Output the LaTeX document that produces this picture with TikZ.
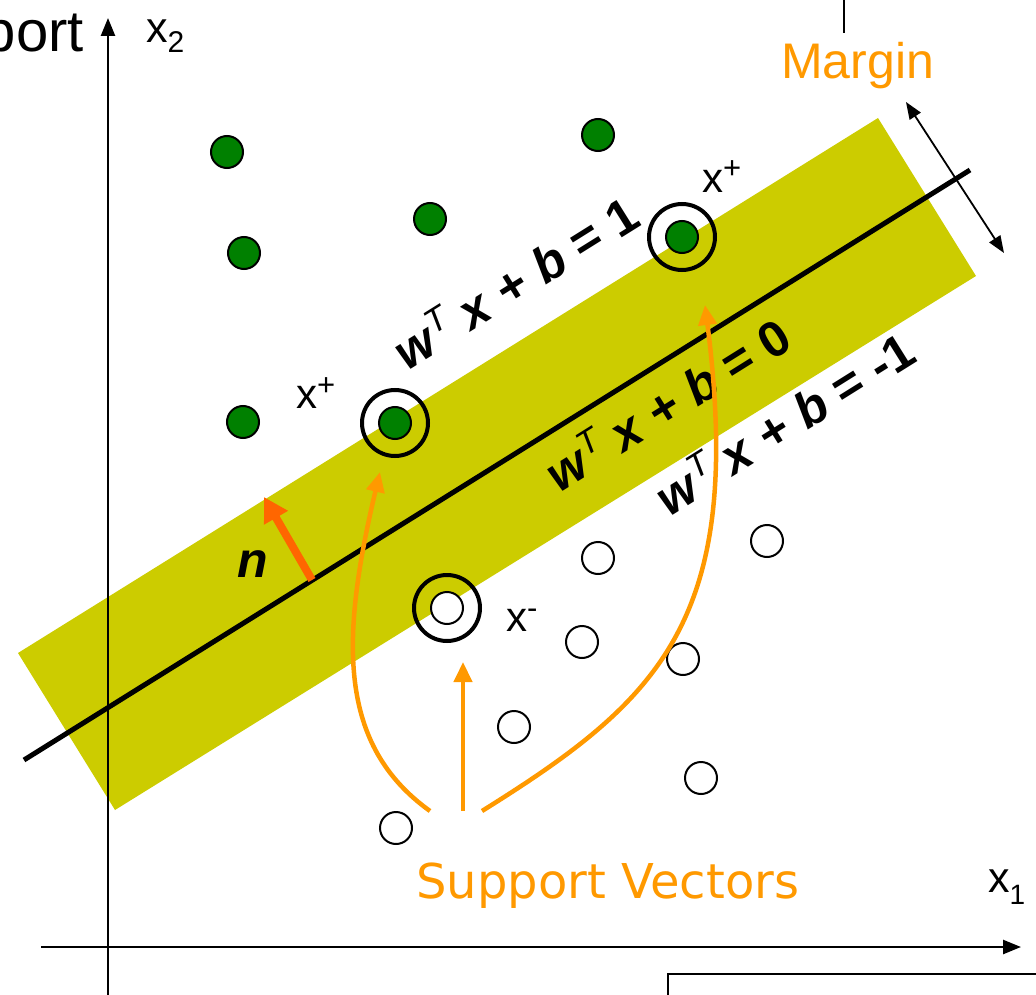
\documentclass[tikz,border=0pt]{standalone}
\usepackage{fontspec}
\setmainfont{Liberation Sans}
\newfontfamily\svfont{DejaVu Sans}
\usetikzlibrary{arrows.meta}
\definecolor{bandcol}{RGB}{204,204,0}
\definecolor{dotgreen}{RGB}{0,128,0}
\definecolor{svorange}{RGB}{255,153,0}
\definecolor{norange}{RGB}{255,102,0}
\begin{document}
\begin{tikzpicture}[x=1pt,y=-1pt,
  axlbl/.style={inner sep=0pt, anchor=base west, font=\fontsize{43}{43}\selectfont},
  ptlbl/.style={inner sep=0pt, anchor=base west, font=\fontsize{42}{42}\selectfont},
  eqlbl/.style={inner sep=0pt, rotate=32, anchor=base, font=\fontsize{50}{50}\selectfont\bfseries},
  gdot/.style={circle, draw=black, line width=2pt, fill=dotgreen, minimum size=32pt, inner sep=0pt},
  wdot/.style={circle, draw=black, line width=2pt, fill=white, minimum size=32pt, inner sep=0pt},
  ringmark/.style={circle, draw=black, line width=4pt, minimum size=66pt, inner sep=0pt},
  axisline/.style={line width=2.5pt, -{Triangle[width=14pt,length=18pt]}},
  svarrow/.style={draw=svorange, line width=4.5pt, -{Triangle[width=18pt,length=20pt]}},
]
\useasboundingbox (0,0) rectangle (1036,995);
% band
\fill[bandcol] (18,653) -- (878,118) -- (976,276) -- (115,810) -- cycle;
% axes
\coordinate (yb) at (108,995);
\coordinate (yt) at (108,18);
\coordinate (xl) at (41,947);
\coordinate (xr) at (1021,947);
\draw[axisline] (yb) -- (yt);
\draw[axisline] (xl) -- (xr);
% decision line
\coordinate (h1) at (24,760);
\coordinate (h2) at (970,170);
\draw[line width=5pt] (h1) -- (h2);
% margin arrow
\coordinate (m1) at (906,102);
\coordinate (m2) at (1004,253);
\draw[line width=1.8pt, {Triangle[width=13pt,length=17pt]}-{Triangle[width=13pt,length=17pt]}] (m1) -- (m2);
% stray frame lines
\coordinate (f1) at (844,0);
\coordinate (f2) at (844,33);
\draw[line width=1.5pt] (f1) -- (f2);
\coordinate (r1) at (668,1000);
\coordinate (r2) at (668,974);
\coordinate (r3) at (1040,974);
\draw[line width=1.5pt] (r1) -- (r2) -- (r3);
% labels
\node[inner sep=0pt, anchor=base east, font=\fontsize{58}{58}\selectfont] (sup) at (84,52) {Support};
\node[axlbl] (x2) at (146,43) {x\raisebox{-10pt}{\fontsize{30}{30}\selectfont 2}};
\node[axlbl] (x1) at (988,892) {x\raisebox{-12pt}{\fontsize{28}{28}\selectfont 1}};
\node[inner sep=0pt, anchor=base west, text=svorange, font=\fontsize{50}{50}\selectfont] (margin) at (781,79) {Margin};
% green points
\node[gdot] (g1) at (227,152) {};
\node[gdot] (g2) at (598,135) {};
\node[gdot] (g3) at (430,219) {};
\node[gdot] (g4) at (244,253) {};
\node[gdot] (g5) at (243,422) {};
\node[gdot] (g6) at (682,237) {};
\node[gdot] (g7) at (395,423) {};
% white points
\node[wdot] (w1) at (598,558) {};
\node[wdot] (w2) at (767,541) {};
\node[wdot] (w3) at (582,642) {};
\node[wdot] (w4) at (683,659) {};
\node[wdot] (w5) at (514,727) {};
\node[wdot] (w6) at (701,778) {};
\node[wdot] (w7) at (396,828) {};
\node[wdot] (w8) at (447,608) {};
% rings
\node[ringmark] (rg6) at (g6) {};
\node[ringmark] (rg7) at (g7) {};
\node[ringmark] (rw8) at (w8) {};
% point labels
\node[ptlbl] (lp1) at (296,408) {x\raisebox{13pt}{\fontsize{31}{31}\selectfont +}};
\node[ptlbl] (lp2) at (702,193) {x\raisebox{14pt}{\fontsize{31}{31}\selectfont +}};
\node[ptlbl] (lm1) at (506,631) {x\raisebox{13pt}{\fontsize{31}{31}\selectfont -}};
% equations
\node[eqlbl] (e1) at (525,298) {\textit{w}\raisebox{17pt}{\fontsize{34}{34}\selectfont\mdseries\itshape T} \textit{x} + \textit{b} = 1};
\node[eqlbl] (e0) at (677,420) {\textit{w}\raisebox{17pt}{\fontsize{34}{34}\selectfont\mdseries\itshape T} \textit{x} + \textit{b} = 0};
\node[eqlbl] (em) at (794,439) {\textit{w}\raisebox{17pt}{\fontsize{34}{34}\selectfont\mdseries\itshape T} \textit{x} + \textit{b} = -1};
% normal vector
\node[inner sep=0pt, anchor=base, font=\fontsize{50}{50}\selectfont\bfseries\itshape] (nl) at (253,577) {n};
\coordinate (n1) at (312,580);
\coordinate (n2) at (264,497);
\draw[norange, line width=8pt, -{Triangle[width=26pt,length=24pt]}] (n1) -- (n2);
% support vector arrows
\coordinate (s1) at (430,811);
\coordinate (s2) at (463,811);
\coordinate (s3) at (482,811);
\coordinate (t1) at (380,472);
\coordinate (t2) at (463,662);
\coordinate (t3) at (705,305);
\draw[svarrow] (s1) .. controls (338,745) and (340,640) .. (t1);
\draw[svarrow] (s2) -- (t2);
\draw[svarrow] (s3) .. controls (660,700) and (745,620) .. (t3);
\node[inner sep=0pt, anchor=base west, text=svorange, font=\svfont\fontsize{48}{48}\selectfont] (svl) at (416,898) {Support Vectors};
\end{tikzpicture}
\end{document}
